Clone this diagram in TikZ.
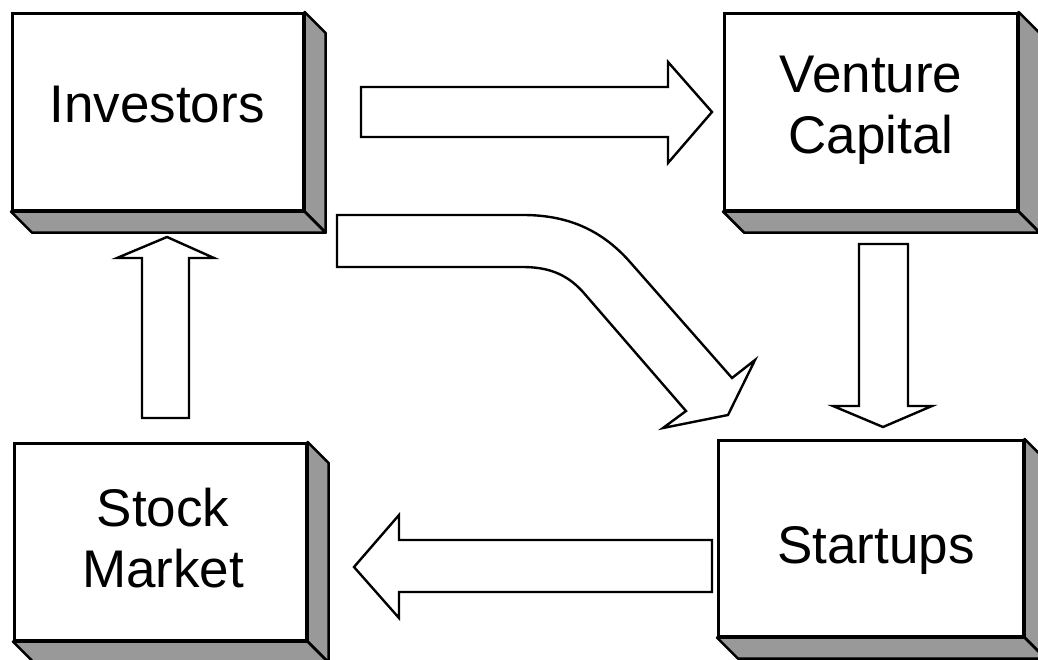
\documentclass[tikz,border=0pt]{standalone}
\usepackage{fontspec}
\setmainfont{Liberation Sans}
\usetikzlibrary{calc}

\tikzset{
  face/.style={draw=black, line width=2.6pt, fill=white, inner sep=0pt, anchor=north west},
  shade/.style={draw=black, line width=2.6pt, fill=black!40, line join=round},
  blockarrow/.style={draw=black, line width=2.4pt, fill=white, line join=miter},
  boxlabel/.style={anchor=base, align=center, inner sep=0pt,
    font=\fontsize{53}{61}\selectfont},
}

% a raised box: front face node plus shaded right and bottom faces
\newcommand{\raisedbox}[5]{%
  % #1 name, #2 x, #3 y, #4 width, #5 height
  \node[face, minimum width=#4pt, minimum height=#5pt] (#1) at (#2,#3) {};
  \fill[shade] (#1.north east) -- ++(21,21) -- ($(#1.south east)+(21,21)$)
    -- (#1.south east) -- cycle;
  \fill[shade] (#1.south west) -- (#1.south east) -- ++(21,21)
    -- ($(#1.south west)+(21,21)$) -- cycle;
}

\begin{document}
\begin{tikzpicture}[x=1pt, y=-1pt]
\useasboundingbox (0,0) rectangle (1038,660);

% boxes
\raisedbox{inv}{11}{12}{291}{197}
\raisedbox{vc}{723}{12}{293}{197}
\raisedbox{sm}{13}{442}{292}{197}
\raisedbox{su}{717}{439}{305}{196}

% labels (base anchor sits on the last line)
\node[boxlabel] (invtext) at (157,123) {Investors};
\node[boxlabel] (vctext) at (871,154) {Venture\\Capital};
\node[boxlabel] (smtext) at (163,587) {Stock\\Market};
\node[boxlabel] (sutext) at (876,563) {Startups};

% Investors -> Venture Capital
\draw[blockarrow] (361,87) -- (668,87) -- (668,62) -- (712,112)
  -- (668,163) -- (668,137) -- (361,137) -- cycle;

% Venture Capital -> Startups
\draw[blockarrow] (859,244) -- (908,244) -- (908,406) -- (932,406)
  -- (883,427) -- (833,406) -- (859,406) -- cycle;

% Startups -> Stock Market
\draw[blockarrow] (712,540) -- (399,540) -- (399,515) -- (354,567)
  -- (399,618) -- (399,592) -- (712,592) -- cycle;

% Stock Market -> Investors
\draw[blockarrow] (142,418) -- (142,258) -- (117,258) -- (167,237)
  -- (214,258) -- (189,258) -- (189,418) -- cycle;

% Investors -> Startups (curved)
\draw[blockarrow] (337,215) -- (523,215)
  .. controls (565,215) and (600,228) .. (630,262)
  -- (732,378) -- (755,360) -- (728,415) -- (663,428) -- (686,411)
  -- (583,292)
  .. controls (565,272) and (545,267) .. (522,267)
  -- (337,267) -- cycle;
\end{tikzpicture}
\end{document}
